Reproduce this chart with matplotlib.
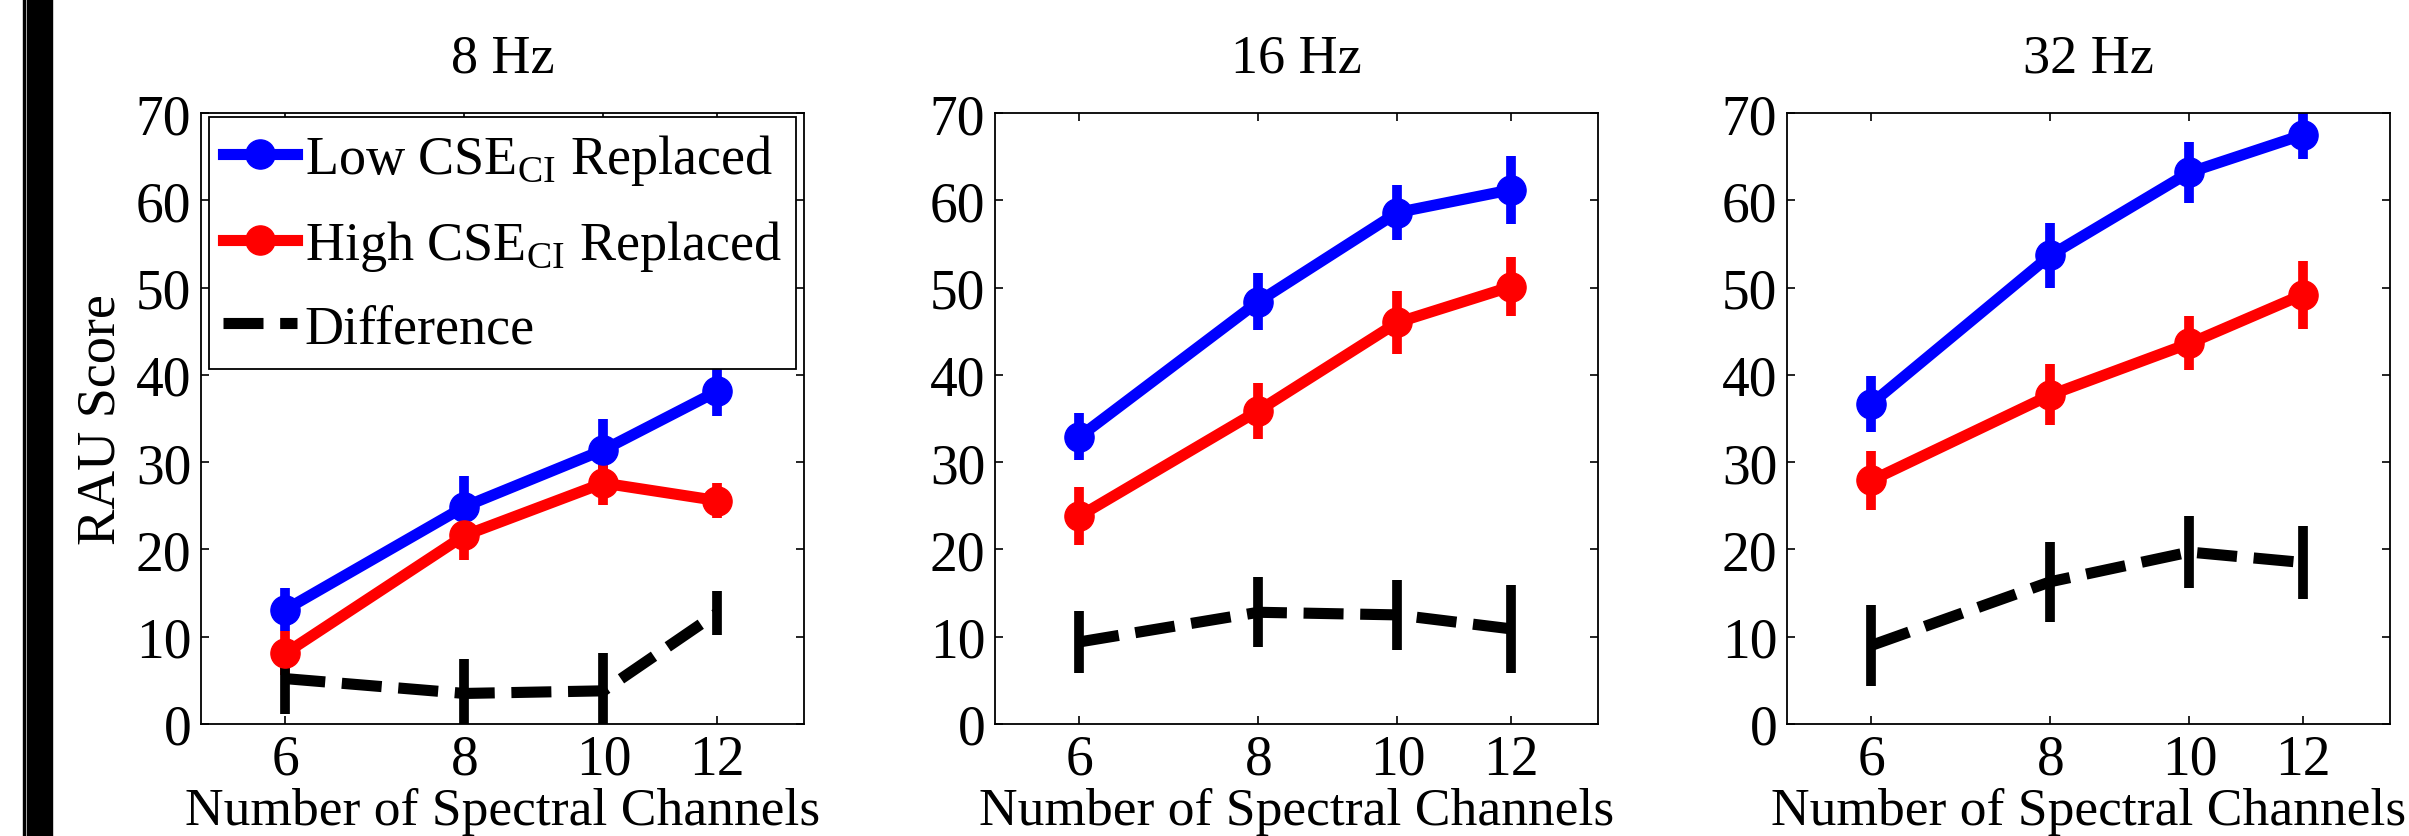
import numpy as np
import matplotlib
matplotlib.use('Agg')
import matplotlib.pyplot as plt
from matplotlib.patches import Rectangle

plt.rcParams['font.family'] = ['Liberation Serif', 'DejaVu Serif']
plt.rcParams['mathtext.fontset'] = 'custom'
plt.rcParams['mathtext.rm'] = 'Liberation Serif'

# data
channels = [6, 8, 10, 12]
titles = ['8 Hz', '16 Hz', '32 Hz']

low_mean = [[13.1, 24.9, 31.4, 38.1],
            [32.9, 48.4, 58.6, 61.2],
            [36.7, 53.7, 63.2, 67.5]]
low_err = [[2.5, 3.5, 3.5, 2.8],
           [2.7, 3.3, 3.1, 3.9],
           [3.2, 3.7, 3.5, 2.8]]

high_mean = [[8.1, 21.6, 27.6, 25.6],
             [23.8, 35.9, 46.0, 50.1],
             [27.9, 37.7, 43.6, 49.2]]
high_err = [[2.5, 2.8, 2.5, 2.0],
            [3.3, 3.2, 3.6, 3.4],
            [3.4, 3.5, 3.1, 3.9]]

diff_mean = [[5.2, 3.5, 3.8, 12.7],
             [9.4, 12.8, 12.5, 10.9],
             [9.0, 16.3, 19.7, 18.5]]
diff_err = [[4.0, 4.0, 4.3, 2.5],
            [3.6, 4.0, 4.0, 5.0],
            [4.6, 4.6, 4.1, 4.2]]

labels = [r'Low CSE$_{\mathrm{CI}}$ Replaced',
          r'High CSE$_{\mathrm{CI}}$ Replaced',
          'Difference']

W, H = 2409, 837
fig = plt.figure(figsize=(W / 100, H / 100), dpi=100)

# black bar on the left edge
fig.patches.append(Rectangle((23 / W, 0), 1.5 / W, 1, transform=fig.transFigure,
                             color='black', zorder=0))
fig.patches.append(Rectangle((27 / W, 0), 25 / W, 1, transform=fig.transFigure,
                             color='black', zorder=0))

lefts = [201, 995, 1787]
ax_w = 603
ax_b = 725
ax_h = 611

lw = 8
ms = 21
elw = 7

for k in range(3):
    ax = fig.add_axes([lefts[k] / W, (H - ax_b) / H, ax_w / W, ax_h / H])

    c1 = ax.errorbar(channels, low_mean[k], yerr=low_err[k], color='#0000ff',
                     lw=lw, marker='o', ms=ms, elinewidth=elw, capsize=0)
    c2 = ax.errorbar(channels, high_mean[k], yerr=high_err[k], color='#ff0000',
                     lw=lw, marker='o', ms=ms, elinewidth=elw, capsize=0)
    c3 = ax.errorbar(channels, diff_mean[k], yerr=diff_err[k], color='black',
                     lw=lw, ls='--', dashes=(3.6, 1.5), elinewidth=elw, capsize=0)

    ax.set_xscale('log')
    ax.set_xlim(5.24, 13.8)
    ax.set_ylim(0, 70)
    ax.set_xticks(channels)
    ax.set_xticklabels([str(c) for c in channels])
    ax.xaxis.set_minor_locator(matplotlib.ticker.NullLocator())
    ax.set_yticks(np.arange(0, 71, 10))
    ax.tick_params(direction='in', top=True, right=True, length=6, width=1.2,
                   labelsize=40, pad=7)
    for s in ax.spines.values():
        s.set_linewidth(1.3)

    ax.set_title(titles[k], fontsize=39, pad=30)
    ax.set_xlabel('Number of Spectral Channels', fontsize=38.5)
    ax.xaxis.set_label_coords(0.5, -0.103)

    if k == 0:
        ax.set_ylabel('RAU Score', fontsize=39, va='center')
        ax.yaxis.set_label_coords(-0.166, 0.5)
        leg = ax.legend([c1[0], c2[0], c3[0]], labels, loc='upper left',
                        bbox_to_anchor=(0.013, 0.993), borderaxespad=0,
                        fontsize=39, handlelength=1.35, handletextpad=0.15,
                        labelspacing=0.57, borderpad=0.27, fancybox=False,
                        framealpha=1, edgecolor='black')
        leg.get_frame().set_linewidth(1.3)

fig.savefig('out.png', dpi=100)
